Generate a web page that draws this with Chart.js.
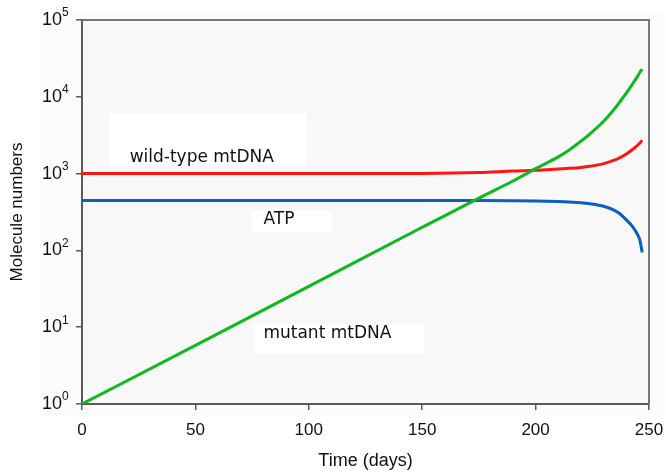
<!DOCTYPE html>
<html lang="en">
<head>
<meta charset="utf-8">
<title>Molecule numbers</title>
<script src="https://cdn.jsdelivr.net/npm/chart.js@4.4.0/dist/chart.umd.min.js"></script>
<style>
  body { margin: 0; background: #ffffff; }
  canvas { display: block; }
</style>
</head>
<body>
<canvas id="graph" width="666" height="472"></canvas>
<script>
// values
var days = [0, 50, 100, 150, 175, 190, 200, 210, 215, 220, 224, 230, 235, 237, 240, 243, 245, 246, 247];
var mutant = [1, 5.8, 34, 200, 480, 800, 1160, 1650, 2050, 2650, 3300, 4800, 7100, 8500, 11200, 15100, 18600, 20900, 22900];
var wildType = [1000, 1000, 1000, 1005, 1030, 1080, 1105, 1148, 1170, 1202, 1245, 1350, 1510, 1600, 1800, 2090, 2340, 2510, 2720];
var atp = [447, 447, 447, 446, 445, 443, 440, 432, 426, 418, 405, 375, 330, 302, 250, 200, 160, 135, 94];
var yTickExps = [0, 1, 2, 3, 4, 5];

function pts(vals) {
  return days.map(function (d, i) { return { x: d, y: vals[i] }; });
}

var axisColor = "#5a5a5a";
var labelFont = "17px 'DejaVu Sans'";

var decor = {
  id: "decor",
  beforeDraw: function (chart) {
    var c = chart.ctx, a = chart.chartArea;
    c.save();
    c.fillStyle = "#ffffff";
    c.fillRect(0, 0, chart.width, chart.height);
    c.fillStyle = "#fcfcfc";
    c.fillRect(a.left - 42, a.top - 6, a.right - a.left + 58, a.bottom - a.top + 18);
    c.fillStyle = "#f8f8f8";
    c.fillRect(a.left, a.top, a.right - a.left, a.bottom - a.top);
    c.restore();
  },
  beforeDatasetsDraw: function (chart) {
    var c = chart.ctx, x = chart.scales.x, y = chart.scales.y;
    // label boxes: [text, x0, x1, yTop, yBottom, textX (days), textY]
    var boxes = [
      ["wild-type mtDNA", 12, 99, 6100, 1200, 21, 1620],
      ["ATP", 75, 110, 330, 170, 80, 250],
      ["mutant mtDNA", 76, 151, 10.8, 4.5, 80, 8.3]
    ];
    c.save();
    boxes.forEach(function (b) {
      var l = x.getPixelForValue(b[1]), r = x.getPixelForValue(b[2]);
      var t = y.getPixelForValue(b[3]), btm = y.getPixelForValue(b[4]);
      c.fillStyle = "#ffffff";
      c.fillRect(l, t, r - l, btm - t);
      c.fillStyle = "#111111";
      c.font = labelFont;
      c.textBaseline = "middle";
      c.textAlign = "left";
      c.fillText(b[0], x.getPixelForValue(b[5]), y.getPixelForValue(b[6]));
    });
    c.restore();
  },
  afterDraw: function (chart) {
    var c = chart.ctx, a = chart.chartArea, y = chart.scales.y;
    c.save();
    c.strokeStyle = "#777777";
    c.lineWidth = 2;
    c.beginPath();
    c.moveTo(a.left, a.top);
    c.lineTo(a.right, a.top);
    c.lineTo(a.right, a.bottom);
    c.stroke();
    // y tick labels 10^n
    c.fillStyle = "#111111";
    yTickExps.forEach(function (e) {
      var py = y.getPixelForValue(Math.pow(10, e));
      c.font = "18px 'Liberation Sans'";
      c.textAlign = "right";
      c.textBaseline = "middle";
      c.fillText("10", a.left - 20, py);
      c.font = "12px 'Liberation Sans'";
      c.textAlign = "left";
      c.fillText(String(e), a.left - 20, py - 7);
    });
    c.restore();
  }
};

new Chart(document.getElementById("graph"), {
  type: "line",
  data: {
    datasets: [
      { label: "mutant mtDNA", data: pts(mutant), borderColor: "#10b820" },
      { label: "wild-type mtDNA", data: pts(wildType), borderColor: "#ff1414" },
      { label: "ATP", data: pts(atp), borderColor: "#0a5fc4" }
    ]
  },
  options: {
    responsive: false,
    animation: false,
    layout: { padding: { top: 20, right: 17, left: 0, bottom: 0 } },
    elements: {
      point: { radius: 0 },
      line: { borderWidth: 3, cubicInterpolationMode: "monotone" }
    },
    plugins: { legend: { display: false }, tooltip: { enabled: false } },
    scales: {
      x: {
        type: "linear",
        min: 0,
        max: 250,
        ticks: { stepSize: 50, color: "#111111", padding: 10, font: { family: "Liberation Sans", size: 17 } },
        grid: { drawOnChartArea: false, color: axisColor, lineWidth: 1.5, tickLength: 6 },
        border: { color: axisColor, width: 2 },
        title: { display: true, text: "Time (days)", color: "#111111", padding: { top: 0, bottom: 0 }, font: { family: "Liberation Sans", size: 18 } },
        afterFit: function (s) { s.height = 68; s.paddingLeft = 0; s.paddingRight = 0; }
      },
      y: {
        type: "logarithmic",
        min: 1,
        max: 100000,
        afterBuildTicks: function (s) {
          s.ticks = yTickExps.map(function (e) { return { value: Math.pow(10, e) }; });
        },
        ticks: { callback: function () { return ""; } },
        grid: { drawOnChartArea: false, color: axisColor, lineWidth: 1.5, tickLength: 6 },
        border: { color: axisColor, width: 2 },
        title: { display: true, text: "Molecule numbers", color: "#111111", padding: { top: 7, bottom: 0 }, font: { family: "Liberation Sans", size: 17 } },
        afterFit: function (s) { s.width = 82; s.paddingTop = 0; s.paddingBottom = 0; }
      }
    }
  },
  plugins: [decor]
});
</script>
</body>
</html>
